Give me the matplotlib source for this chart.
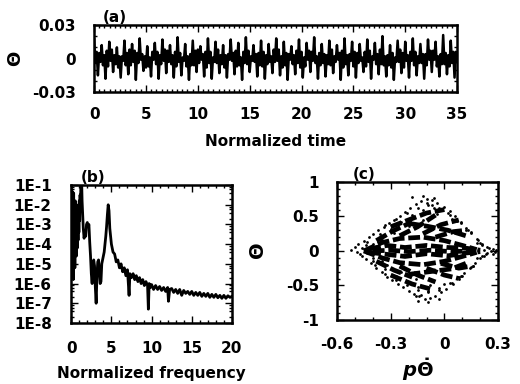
import numpy as np
import matplotlib
matplotlib.use("Agg")
import matplotlib.pyplot as plt
from matplotlib.ticker import MultipleLocator, FixedLocator, LogLocator, NullFormatter

plt.rcParams['font.family'] = ['DejaVu Sans']
plt.rcParams['font.weight'] = 'bold'
plt.rcParams['mathtext.fontset'] = 'dejavusans'

# (a) theta vs normalized time: per-cycle values (x 1e-3)
peak_milli = [17, 12, 15, 10, 16, 13, 18, 11, 14, 17, 12, 19, 13, 16, 11, 18, 15, 12, 17, 14,
              19, 12, 16, 13, 18, 15, 11, 17, 14, 19, 13, 16, 12, 18, 15, 13, 17, 14, 20, 12,
              16, 15, 18, 13, 17, 15, 21, 16]
dip_milli = [-4, -6, -2, -8, -6, -3, -1, -7, -5, -2, -5, -3, -7, -6, -1, -4, -4, -8, -2, -6,
             -5, -3, -7, -3, -2, -6, -5, -8, -1, -4, -4, -6, -1, -5, -7, -2, -3, -5, -6, -8,
             -3, -2, -6, -4, -1, -7, -5, -4]
rebound_milli = [6, 3, 8, 2, 5, 7, 4, 1, 6, 8, 3, 5, 2, 7, 4, 6, 8, 3, 5, 1, 7, 4, 6, 2,
                 8, 5, 3, 6, 7, 2, 4, 8, 5, 3, 6, 1, 7, 4, 2, 5, 8, 3, 6, 4, 7, 2, 5, 6]
trough_milli = [-15, -18, -12, -17, -14, -19, -11, -16, -18, -13, -17, -15, -19, -12, -16, -18,
                -13, -17, -14, -19, -12, -16, -18, -13, -15, -19, -14, -17, -12, -18, -16, -13,
                -19, -15, -17, -12, -18, -14, -16, -19, -13, -17, -15, -18, -12, -16, -14, -17]
rise_milli = [5, 7, 3, 2, 8, 5, 2, 6, 3, 7, 6, 1, 4, 8, 6, 1, 3, 4, 7, 6, 2, 5, 3, 8,
              2, 4, 7, 1, 6, 5, 3, 2, 7, 4, 5, 6, 2, 8, 3, 1, 5, 6, 2, 4, 7, 4, 3, 6]
redip_milli = [-3, -7, -5, -2, -6, -4, -8, -1, -5, -3, -7, -2, -6, -4, -8, -3, -5, -1, -7, -4,
               -2, -6, -5, -3, -8, -1, -4, -7, -2, -6, -5, -3, -8, -2, -4, -7, -1, -5, -6, -3,
               -8, -2, -4, -6, -1, -5, -7, -3]
t_end = 35

# (b) power spectrum, log10 values
freq = [0.0, 0.05, 0.1, 0.15, 0.2, 0.25, 0.3, 0.35, 0.4, 0.45, 0.5, 0.55, 0.6, 0.65, 0.7,
        0.75, 0.8, 0.85, 0.9, 0.95, 1.0, 1.05, 1.1, 1.15, 1.2, 1.3, 1.35, 1.4, 1.5,
        1.6, 1.7, 1.8, 1.9, 2.0, 2.1, 2.2, 2.3, 2.4, 2.5, 2.6, 2.7, 2.8, 2.9, 3.0, 3.1,
        3.2, 3.3, 3.4, 3.5, 3.6, 3.7, 3.8, 3.9, 4.0, 4.1, 4.2, 4.3, 4.4, 4.5, 4.6, 4.7,
        4.8, 4.9,
        5.0, 5.2, 5.4, 5.6, 5.8, 6.0, 6.2, 6.4, 6.6, 6.8, 7.0, 7.2, 7.3, 7.5, 7.7, 7.9,
        8.1, 8.3, 8.5, 8.7, 8.9, 9.1, 9.3, 9.5, 9.6, 9.7, 9.85,
        10.0, 10.25, 10.5, 10.75, 11.0, 11.25, 11.5, 11.75, 12.0, 12.1, 12.25, 12.5,
        12.75, 13.0, 13.25, 13.5, 13.75, 14.0, 14.25, 14.5, 14.75, 15.0, 15.25, 15.5,
        15.75, 16.0, 16.25, 16.5, 16.75, 17.0, 17.25, 17.5, 17.75, 18.0, 18.25, 18.5,
        18.75, 19.0, 19.25, 19.5, 19.75, 20.0]
log_power = [-1.1, -5.0, -1.3, -4.5, -1.6, -5.8, -1.4, -4.0, -2.0, -5.2, -1.8, -3.6, -2.4,
             -4.6, -2.2, -4.2, -2.6, -3.8, -2.0, -3.4, -1.8, -2.8, -1.5, -2.2, -0.8, -0.9,
             -1.8, -2.3, -3.2,
             -3.7, -3.4, -3.6, -3.0, -2.9, -3.1, -3.0, -3.9, -4.6, -5.5, -6.0, -5.0, -4.8,
             -5.1, -6.2, -7.0, -5.6, -4.9, -4.8, -5.4, -6.0, -5.9, -5.0, -4.8, -4.6, -4.4,
             -4.0, -3.6, -3.1, -2.5, -2.0, -2.3, -3.2, -3.6,
             -4.0, -4.4, -4.5, -4.9, -4.8, -5.2, -5.0, -5.4, -5.2, -5.6, -5.3, -6.6, -5.5,
             -5.7, -5.5, -5.8, -5.6, -5.9, -5.7, -6.0, -5.8, -6.1, -5.9, -6.1, -7.3, -6.0,
             -6.2,
             -6.05, -6.3, -6.1, -6.3, -6.15, -6.35, -6.2, -6.4, -6.2, -6.9, -6.3, -6.25,
             -6.45, -6.3, -6.5, -6.3, -6.6, -6.35, -6.5, -6.4, -6.55, -6.4, -6.6, -6.45,
             -6.6, -6.45, -6.65, -6.5, -6.65, -6.5, -6.7, -6.55, -6.7, -6.55, -6.72, -6.6,
             -6.75, -6.6, -6.75, -6.62, -6.7, -6.65]

# (c) phase portrait: scattered dots
dots_x = [-0.50, -0.48, -0.47, -0.45, -0.44, -0.42, -0.41, -0.40, -0.38, -0.37, -0.35, -0.34,
          -0.32, -0.31, -0.29, -0.28, -0.26, -0.25, -0.23, -0.22, -0.20, -0.19, -0.17, -0.16,
          -0.14, -0.13, -0.11, -0.10, -0.08, -0.07, -0.05, -0.04, -0.02, 0.00, 0.01, 0.03,
          0.05, 0.06, 0.08, 0.09, 0.11, 0.12, 0.14, 0.15, 0.17, 0.18, 0.20, 0.21, 0.23, 0.24,
          0.26, 0.27, 0.28,
          -0.46, -0.43, -0.39, -0.36, -0.33, -0.30, -0.27, -0.24, -0.21, -0.18, -0.15, -0.12,
          -0.09, -0.06, -0.03, 0.02, 0.04, 0.07, 0.10, 0.13, 0.16, 0.19, 0.22,
          -0.44, -0.40, -0.36, -0.32, -0.28, -0.24, -0.20, -0.16, -0.12, -0.08, -0.04, 0.00,
          0.04, 0.08, 0.12, 0.16, 0.20,
          -0.52, -0.49, -0.46, -0.43, 0.25, 0.27, 0.29, 0.22, 0.24,
          -0.33, -0.27, -0.21, -0.15, -0.09, -0.03, 0.03, 0.09, 0.15,
          -0.33, -0.27, -0.21, -0.15, -0.09, -0.03, 0.03, 0.09, 0.15,
          -0.18, -0.12, -0.06, -0.15, -0.09, -0.03, -0.40, -0.35, 0.18, 0.21,
          -0.40, -0.35, 0.18, 0.21, -0.10, -0.13, -0.07, -0.16]
dots_y = [0.05, 0.10, -0.05, 0.15, -0.12, 0.20, -0.18, 0.25, -0.25, 0.30, -0.30, 0.35,
          -0.38, 0.40, -0.42, 0.45, -0.48, 0.50, -0.52, 0.56, -0.58, 0.62, -0.62, 0.68,
          -0.66, 0.72, -0.70, 0.76, -0.68, 0.74, -0.65, 0.70, -0.60, 0.64, -0.55, 0.58,
          -0.48, 0.50, -0.40, 0.42, -0.32, 0.34, -0.25, 0.26, -0.17, 0.18, -0.10, 0.10,
          -0.05, 0.06, 0.00, 0.03, -0.02,
          -0.08, 0.13, -0.20, 0.24, -0.26, 0.32, -0.36, 0.42, -0.44, 0.52, -0.52, 0.60,
          -0.58, 0.62, -0.54, 0.55, -0.46, 0.44, -0.36, 0.30, -0.22, 0.16, -0.08,
          0.08, -0.14, 0.18, -0.20, 0.26, -0.30, 0.36, -0.40, 0.45, -0.50, 0.54, -0.48,
          0.46, -0.38, 0.30, -0.22, 0.12,
          0.02, -0.02, 0.04, -0.03, 0.04, -0.04, 0.01, 0.02, -0.03,
          0.38, 0.47, 0.55, 0.62, 0.66, 0.62, 0.52, 0.40, 0.28,
          -0.33, -0.42, -0.50, -0.56, -0.60, -0.56, -0.47, -0.36, -0.24,
          0.78, 0.80, 0.77, -0.72, -0.74, -0.70, 0.10, 0.16, 0.12, 0.08,
          -0.10, -0.14, -0.10, -0.07, 0.70, -0.64, 0.67, -0.66]

# (c) dense dark bands
band_x = [
    [-0.45, -0.35, -0.25, -0.12, 0.00, 0.10, 0.18],
    [-0.45, -0.35, -0.25, -0.12, 0.00, 0.10, 0.18],
    [-0.42, -0.32, -0.22, -0.10, 0.02, 0.12, 0.20],
    [-0.42, -0.32, -0.22, -0.10, 0.02, 0.12, 0.20],
    [-0.40, -0.30, -0.20, -0.08, 0.04, 0.14],
    [-0.38, -0.28, -0.18], [-0.25, -0.15, -0.05], [-0.12, -0.02, 0.08],
    [-0.05, 0.05, 0.12], [-0.30, -0.20, -0.10, 0.00], [-0.20, -0.10, 0.02, 0.12],
    [-0.38, -0.28, -0.18], [-0.25, -0.15, -0.05], [-0.10, 0.00, 0.08],
    [-0.02, 0.08, 0.15], [-0.30, -0.18, -0.08], [-0.20, -0.08, 0.04, 0.12],
]
band_y = [
    [0.00, 0.12, 0.18, 0.20, 0.15, 0.08, 0.02],
    [0.00, -0.10, -0.17, -0.20, -0.15, -0.08, -0.02],
    [0.03, 0.08, 0.05, 0.08, 0.05, 0.04, 0.01],
    [-0.02, -0.05, -0.08, -0.04, -0.07, -0.03, -0.01],
    [0.00, 0.01, -0.01, 0.01, -0.01, 0.00],
    [0.15, 0.30, 0.42], [0.22, 0.35, 0.52], [0.25, 0.38, 0.45],
    [0.20, 0.28, 0.30], [0.35, 0.45, 0.55, 0.60], [0.40, 0.36, 0.30, 0.22],
    [-0.15, -0.28, -0.38], [-0.22, -0.35, -0.45], [-0.25, -0.35, -0.40],
    [-0.18, -0.25, -0.22], [-0.35, -0.48, -0.55], [-0.34, -0.30, -0.26, -0.18],
]

fig = plt.figure(figsize=(5.2, 3.84), dpi=100)
ax_a = fig.add_axes([0.181, 0.760, 0.698, 0.175])
ax_b = fig.add_axes([0.137, 0.159, 0.309, 0.359])
ax_c = fig.add_axes([0.648, 0.167, 0.310, 0.359])


def style(ax, xpad, ypad):
    for s in ax.spines.values():
        s.set_linewidth(1.8)
    ax.tick_params(which='both', direction='in', top=True, right=True,
                   labelsize=11, width=1.0)
    ax.tick_params(axis='x', which='both', pad=xpad)
    ax.tick_params(axis='y', which='both', pad=ypad)
    ax.tick_params(which='major', length=5)
    ax.tick_params(which='minor', length=2.5)
    for lab in ax.get_xticklabels() + ax.get_yticklabels():
        lab.set_fontweight('bold')


# (a)
theta_milli = [v for cyc in zip(peak_milli, dip_milli, rebound_milli,
                                trough_milli, rise_milli, redip_milli)
               for v in cyc]
t = np.linspace(0, t_end, len(theta_milli))
ax_a.plot(t, np.array(theta_milli) * 1e-3, color='black', lw=1.8)
ax_a.set_xlim(0, 35)
ax_a.set_ylim(-0.03, 0.03)
ax_a.xaxis.set_major_locator(MultipleLocator(5))
ax_a.xaxis.set_minor_locator(MultipleLocator(0.5))
ax_a.set_yticks([-0.03, 0, 0.03])
ax_a.set_yticklabels(['-0.03', '0', '0.03'])
ax_a.yaxis.set_minor_locator(MultipleLocator(0.01))
style(ax_a, 11, 13)
ax_a.set_xlabel('Normalized time', fontsize=11, fontweight='bold', labelpad=8)
ax_a.set_ylabel(r'$\Theta$', fontsize=13)
ax_a.yaxis.set_label_coords(-0.19, 0.5)
ax_a.text(0.025, 1.05, '(a)', transform=ax_a.transAxes, fontsize=11, fontweight='bold')

# (b)
ax_b.plot(freq, 10.0 ** np.array(log_power), color='black', lw=2.0)
ax_b.set_yscale('log')
ax_b.set_xlim(0, 20)
ax_b.set_ylim(1e-8, 1e-1)
ax_b.xaxis.set_major_locator(MultipleLocator(5))
ax_b.xaxis.set_minor_locator(MultipleLocator(1))
decades = [1e-8, 1e-7, 1e-6, 1e-5, 1e-4, 1e-3, 1e-2, 1e-1]
ax_b.yaxis.set_major_locator(FixedLocator(decades))
ax_b.set_yticklabels(['1E-8', '1E-7', '1E-6', '1E-5', '1E-4', '1E-3', '1E-2', '1E-1'])
ax_b.yaxis.set_minor_locator(LogLocator(base=10, subs=(2, 4, 6, 8), numticks=20))
ax_b.yaxis.set_minor_formatter(NullFormatter())
style(ax_b, 13, 14)
ax_b.set_xlabel('Normalized frequency', fontsize=11, fontweight='bold', labelpad=7)
ax_b.text(0.06, 1.02, '(b)', transform=ax_b.transAxes, fontsize=11, fontweight='bold')

# (c)
for bx, by in zip(band_x, band_y):
    ax_c.plot(bx, by, color='black', lw=3.4, dashes=(2.5, 0.8))
ax_c.scatter(dots_x, dots_y, s=4, color='black', linewidths=0)
ax_c.set_xlim(-0.6, 0.3)
ax_c.set_ylim(-1, 1)
ax_c.set_xticks([-0.6, -0.3, 0, 0.3])
ax_c.set_xticklabels(['-0.6', '-0.3', '0', '0.3'])
ax_c.xaxis.set_minor_locator(MultipleLocator(0.1))
ax_c.set_yticks([-1, -0.5, 0, 0.5, 1])
ax_c.set_yticklabels(['-1', '-0.5', '0', '0.5', '1'])
ax_c.yaxis.set_minor_locator(MultipleLocator(0.1))
style(ax_c, 12, 13)
ax_c.set_xlabel(r'$p\dot{\Theta}$', fontsize=14, labelpad=3)
ax_c.set_ylabel(r'$\Theta$', fontsize=14)
ax_c.yaxis.set_label_coords(-0.43, 0.5)
ax_c.text(0.1, 1.02, '(c)', transform=ax_c.transAxes, fontsize=11, fontweight='bold')

fig.savefig('out.png', dpi=100)
